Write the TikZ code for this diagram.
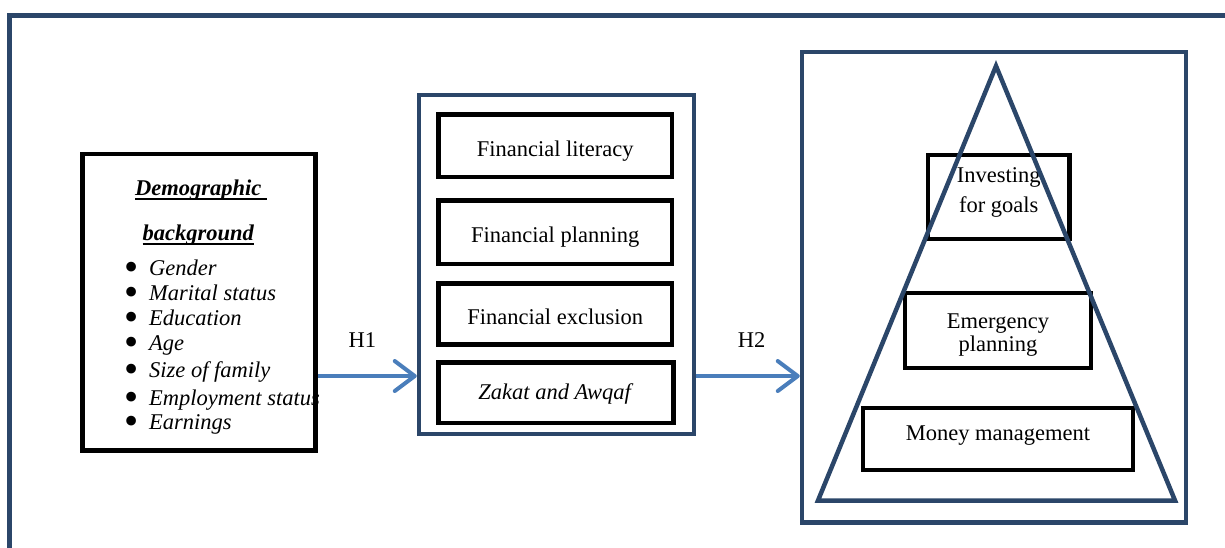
\documentclass[tikz,border=0pt]{standalone}
\usepackage{fontspec}
\setmainfont{Liberation Serif}
\usetikzlibrary{arrows.meta,calc}

\definecolor{frameblue}{HTML}{2B4669}
\definecolor{arrowblue}{HTML}{4A7EBB}

\newcommand{\thickul}[1]{\setbox0\hbox{#1}\rlap{\rule[-4.5pt]{\wd0}{1.8pt}}\box0}
\newcommand{\bul}{\makebox[25pt][l]{\smash{\raisebox{-5.5pt}{\scalebox{1.8}{\textbullet}}}}}

\tikzset{
  bluebox/.style={draw=frameblue,line width=4.5pt,inner sep=0pt},
  blackbox/.style={draw=black,line width=4.5pt,inner sep=0pt,align=center},
  midtext/.style={text height=21pt,text depth=0pt},
  flow/.style={draw=arrowblue,line width=4pt,-{Straight Barb[length=20pt,width=30pt,round]}},
  every node/.style={font=\fontsize{22.5}{27}\selectfont},
  item/.style={anchor=base west,inner sep=0pt,text height=14pt,text depth=4pt},
}

\begin{document}
\begin{tikzpicture}[x=1pt,y=-1pt]
    \useasboundingbox (0,0) rectangle (1225,547);
    \draw[frameblue,line width=5pt] (1235,15.5) -- (9.5,15.5) -- (9.5,557);

    \node[blackbox,minimum width=233pt,minimum height=296.5pt] (demo) at (199,302.25) {};
    \node[anchor=base,inner sep=0pt] (title1) at (201,195) {\thickul{\textbf{\textit{Demographic\ }}}};
    \node[anchor=base,inner sep=0pt] (title2) at (198.5,240) {\thickul{\textbf{\textit{background}}}};
    \node[item] (i1) at (124,275) {\bul\textit{Gender}};
    \node[item] (i2) at (124,300) {\bul\textit{Marital status}};
    \node[item] (i3) at (124,325) {\bul\textit{Education}};
    \node[item] (i4) at (124,350) {\bul\textit{Age}};
    \node[item] (i5) at (124,377) {\bul\textit{Size of family}};
    \node[item] (i6) at (124,405) {\bul\textit{Employment status}};
    \node[item] (i7) at (124,429) {\bul\textit{Earnings}};

    \node[bluebox,minimum width=275pt,minimum height=339pt] (mid) at (556.5,264.5) {};
    \node[blackbox,midtext,minimum width=233.5pt,minimum height=62.5pt] (lit) at (555.25,145.75) {Financial literacy};
    \node[blackbox,midtext,minimum width=233.5pt,minimum height=63.5pt] (plan) at (555.25,232.25) {Financial planning};
    \node[blackbox,midtext,minimum width=233.5pt,minimum height=61pt] (excl) at (555.25,314) {Financial exclusion};
    \node[blackbox,text height=17pt,text depth=3pt,minimum width=235pt,minimum height=60.5pt] (zakat) at (556,392.75) {\textit{Zakat and Awqaf}};

    \node[bluebox,minimum width=384pt,minimum height=470.5pt] (pyr) at (994,287.25) {};
    \node[blackbox,text height=45pt,text depth=15pt,minimum width=141.5pt,minimum height=84pt] (invest) at (998.75,197) {Investing\\[3pt]for goals};
    \node[blackbox,text height=46pt,text depth=5pt,minimum width=186pt,minimum height=75pt] (emerg) at (998,330.5) {Emergency\\[-4pt]planning};
    \node[blackbox,text height=14pt,text depth=12pt,minimum width=270pt,minimum height=62pt] (money) at (998,439) {Money management};
    \draw[frameblue,line width=4.5pt] (996,66) -- (1175,500.5) -- (818,500.5) -- cycle;

    \draw[flow] ($(demo.east)+(0,73.75)$) coordinate (h1s) -- (h1s -| mid.west)
      node[midway,anchor=base,yshift=29pt,xshift=-5pt] {H1};
    \draw[flow] (h1s -| mid.east) -- (h1s -| pyr.west)
      node[midway,anchor=base,yshift=29pt,xshift=3.5pt] {H2};
  \end{tikzpicture}
\end{document}
